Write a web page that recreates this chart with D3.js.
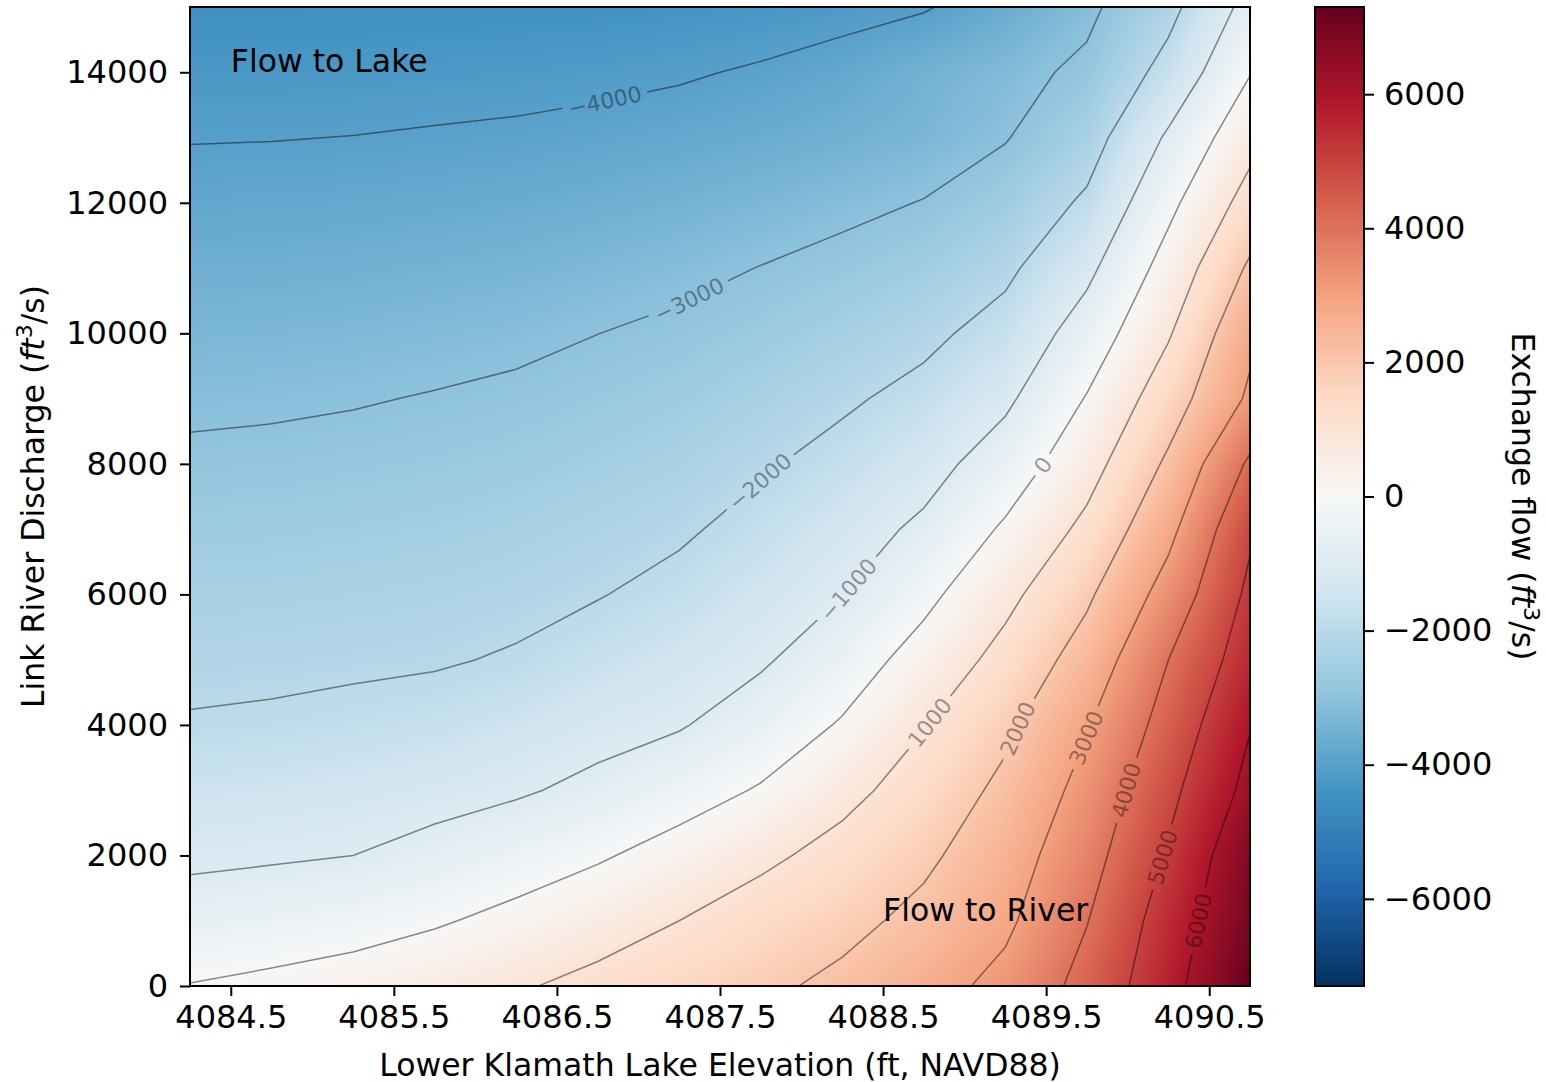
<!DOCTYPE html>
<html>
<head>
<meta charset="utf-8">
<script src="https://cdn.jsdelivr.net/npm/d3@7"></script>
<style>
  body { margin: 0; background: #fff; }
  svg { font-family: "DejaVu Sans", sans-serif; }
</style>
</head>
<body>
<svg id="chart" width="1546" height="1082"></svg>
<script>
// grid of the model run: lake elevation (ft) x Link River discharge (ft3/s)
const elevation = [4084.25, 4084.75, 4085.25, 4085.75, 4086.25, 4086.75, 4087.25,
                   4087.75, 4088.25, 4088.75, 4089.25, 4089.75, 4090.25, 4090.75];
const discharge = [0, 1000, 2000, 3000, 4000, 5000, 6000, 7000, 8000,
                   9000, 10000, 11000, 12000, 13000, 14000, 15000];

// exchange flow, one row per discharge value (ft3/s)
const exchange = [
  [   30,   180,   350,   620,   910,  1240,  1560,  1830,  2195,  2650,  3250,  4300,  5655,  7300],
  [ -620,  -475,  -320,   -90,   230,   600,  1000,  1430,  1755,  2230,  2830,  3970,  5453,  6950],
  [-1160, -1090, -1000,  -740,  -430,   -95,   330,   810,  1300,  1830,  2550,  3630,  5100,  6775],
  [-1554, -1497, -1405, -1279, -1097,  -800,  -380,    70,   735,  1410,  2210,  3300,  4760,  6270],
  [-1940, -1891, -1804, -1701, -1516, -1280, -1066,  -555,    78,   960,  1810,  2940,  4362,  5960],
  [-2195, -2166, -2117, -2066, -1935, -1667, -1425, -1110,  -479,   364,  1300,  2400,  4000,  5500],
  [-2426, -2396, -2346, -2291, -2195, -2033, -1785, -1435, -1017,  -234,   757,  1854,  3369,  5200],
  [-2656, -2625, -2576, -2516, -2426, -2275, -2103, -1760, -1382,  -841,   126,  1223,  2755,  4860],
  [-2890, -2859, -2809, -2744, -2660, -2520, -2364, -2084, -1753, -1331,  -546,   623,  2155,  4150],
  [-3118, -3089, -3040, -2969, -2890, -2762, -2621, -2386, -2112, -1770, -1168,    53,  1534,  3150],
  [-3344, -3319, -3277, -3212, -3135, -3004, -2877, -2688, -2460, -2187, -1688,  -573,   915,  2800],
  [-3569, -3550, -3515, -3458, -3394, -3284, -3157, -2986, -2807, -2578, -2173, -1214,   364,  2140],
  [-3799, -3784, -3755, -3708, -3657, -3569, -3461, -3322, -3160, -2976, -2613, -1867,  -228,  1370],
  [-4024, -4014, -3993, -3955, -3916, -3849, -3760, -3648, -3508, -3347, -3040, -2403,  -871,   681],
  [-4250, -4245, -4230, -4200, -4175, -4129, -4060, -3940, -3780, -3480, -3230, -2850, -1700,   -40],
  [-4475, -4475, -4467, -4447, -4434, -4410, -4360, -4300, -4180, -4050, -3660, -3170, -2260,  -690]
];

const contourLevels = [-4000, -3000, -2000, -1000, 0, 1000, 2000, 3000, 4000, 5000, 6000];
const xTicks = [4084.5, 4085.5, 4086.5, 4087.5, 4088.5, 4089.5, 4090.5];
const yTicks = [0, 2000, 4000, 6000, 8000, 10000, 12000, 14000];
const cbarTicks = [-6000, -4000, -2000, 0, 2000, 4000, 6000];

// where the inline contour labels sit
const labelLevels = [-4000, -3000, -2000, -1000, 0, 1000, 2000, 3000, 4000, 5000, 6000];
const labelElev = [4086.79, 4087.30, 4087.75, 4088.30, 4089.46, 4088.78, 4089.30, 4089.73, 4089.98, 4090.21, 4090.43];
const labelQ = [13617, 10565, 7713, 6042, 8020, 4048, 3972, 3818, 3006, 1978, 981];

const plot = {left: 190, right: 1250, top: 7, bottom: 986};
const nx = elevation.length, ny = discharge.length;
const tickSize = 32, textSize = 31.5;
const minus = v => v < 0 ? '\u2212' + Math.abs(v) : String(v);

const svg = d3.select('#chart');

const x = d3.scaleLinear().domain([elevation[0], elevation[nx - 1]]).range([plot.left, plot.right]);
const y = d3.scaleLinear().domain([discharge[0], discharge[ny - 1]]).range([plot.bottom, plot.top]);

// symmetric colour limits, RdBu_r
const vmax = d3.max(exchange.flat(), v => Math.abs(v));
const rdbu = ['#053061', '#2166ac', '#4393c3', '#92c5de', '#d1e5f0', '#f7f7f7',
              '#fddbc7', '#f4a582', '#d6604d', '#b2182b', '#67001f'];
const color = d3.scaleLinear()
    .domain(rdbu.map((c, i) => -vmax + i * 2 * vmax / (rdbu.length - 1)))
    .range(rdbu)
    .interpolate(d3.interpolateRgb)
    .clamp(true);

// smooth field: bilinear between grid nodes, painted on a canvas
const W = plot.right - plot.left, H = plot.bottom - plot.top;
const canvas = document.createElement('canvas');
canvas.width = W;
canvas.height = H;
const ctx = canvas.getContext('2d');
const img = ctx.createImageData(W, H);
const lut = d3.range(1025).map(i => d3.rgb(color(-vmax + 2 * vmax * i / 1024)));
const fx = d3.scaleLinear().domain(x.domain()).range([0, nx - 1]).clamp(true);
const fy = d3.scaleLinear().domain(y.domain()).range([0, ny - 1]).clamp(true);

for (let j = 0; j < H; j++) {
  const gy = fy(y.invert(plot.top + j + 0.5));
  const j0 = Math.min(ny - 2, Math.floor(gy)), ty = gy - j0;
  for (let i = 0; i < W; i++) {
    const gx = fx(x.invert(plot.left + i + 0.5));
    const i0 = Math.min(nx - 2, Math.floor(gx)), tx = gx - i0;
    const v = (1 - tx) * (1 - ty) * exchange[j0][i0] + tx * (1 - ty) * exchange[j0][i0 + 1]
            + (1 - tx) * ty * exchange[j0 + 1][i0] + tx * ty * exchange[j0 + 1][i0 + 1];
    const k = Math.max(0, Math.min(1024, Math.round((v + vmax) / (2 * vmax) * 1024)));
    const c = lut[k], p = (j * W + i) * 4;
    img.data[p] = c.r; img.data[p + 1] = c.g; img.data[p + 2] = c.b; img.data[p + 3] = 255;
  }
}
ctx.putImageData(img, 0, 0);

const defs = svg.append('defs');
defs.append('clipPath').attr('id', 'plotclip')
  .append('rect')
    .attr('x', plot.left).attr('y', plot.top)
    .attr('width', W).attr('height', H);

svg.append('image')
    .attr('x', plot.left).attr('y', plot.top)
    .attr('width', W).attr('height', H)
    .attr('preserveAspectRatio', 'none')
    .attr('href', canvas.toDataURL());

// contour lines
const contours = d3.contours().size([nx, ny]).thresholds(contourLevels)(exchange.flat());
const gxScale = d3.scaleLinear().domain([0.5, nx - 0.5]).range([elevation[0], elevation[nx - 1]]);
const gyScale = d3.scaleLinear().domain([0.5, ny - 0.5]).range([discharge[0], discharge[ny - 1]]);
const toPx = p => [x(gxScale(p[0])), y(gyScale(p[1]))];
const line = d3.line();

const lines = svg.append('g').attr('clip-path', 'url(#plotclip)')
  .append('g').attr('mask', 'url(#gaps)');

contours.forEach(c => {
  c.coordinates.forEach(poly => poly.forEach(ring => {
    lines.append('path')
        .attr('d', line(ring.map(toPx)))
        .attr('fill', 'none')
        .attr('stroke', 'rgba(0,0,0,0.45)')
        .attr('stroke-width', 1.5);
  }));
});

// inline labels: nearest point on the level's contour, rotated along it
const inside = p => p[0] > plot.left + 1 && p[0] < plot.right - 1 && p[1] > plot.top + 1 && p[1] < plot.bottom - 1;
const labelG = svg.append('g');
const mask = defs.append('mask').attr('id', 'gaps')
    .attr('maskUnits', 'userSpaceOnUse')
    .attr('x', 0).attr('y', 0).attr('width', 1546).attr('height', 1082);
mask.append('rect').attr('width', 1546).attr('height', 1082).attr('fill', '#fff');

labelLevels.forEach((lvl, li) => {
  const c = contours.find(d => d.value === lvl);
  if (!c) return;
  const tx = x(labelElev[li]), ty = y(labelQ[li]);
  let best = null;
  c.coordinates.forEach(poly => poly.forEach(ring => {
    const pts = ring.map(toPx);
    for (let k = 0; k < pts.length - 1; k++) {
      const a = pts[k], b = pts[k + 1];
      if (!inside(a) || !inside(b)) continue;
      const dx = b[0] - a[0], dy = b[1] - a[1];
      const len2 = dx * dx + dy * dy || 1;
      const t = Math.max(0, Math.min(1, ((tx - a[0]) * dx + (ty - a[1]) * dy) / len2));
      const px = a[0] + t * dx, py = a[1] + t * dy;
      const d2 = (px - tx) ** 2 + (py - ty) ** 2;
      if (!best || d2 < best.d2) best = {d2, px, py, ang: Math.atan2(dy, dx) * 180 / Math.PI};
    }
  }));
  if (!best) return;
  let ang = best.ang;
  if (ang > 90) ang -= 180;
  if (ang < -90) ang += 180;
  const t = labelG.append('text')
      .attr('transform', `translate(${best.px},${best.py}) rotate(${ang})`)
      .attr('text-anchor', 'middle')
      .attr('dy', '0.36em')
      .attr('font-size', 22)
      .attr('fill', 'rgba(0,0,0,0.4)')
      .text(minus(lvl));
  const w = t.node().getComputedTextLength() + 12;
  mask.append('rect')
      .attr('x', -w / 2).attr('y', -11).attr('width', w).attr('height', 22)
      .attr('fill', '#000')
      .attr('transform', `translate(${best.px},${best.py}) rotate(${ang})`);
});

// annotations
svg.append('text').attr('x', x(4084.5)).attr('y', y(14000))
    .attr('font-size', textSize).text('Flow to Lake');
svg.append('text').attr('x', x(4088.5)).attr('y', y(1000))
    .attr('font-size', textSize).text('Flow to River');

// axes
const xAxis = svg.append('g')
    .attr('transform', `translate(0,${plot.bottom})`)
    .call(d3.axisBottom(x).tickValues(xTicks).tickFormat(d3.format('.1f')).tickSize(10).tickPadding(9));
const yAxis = svg.append('g')
    .attr('transform', `translate(${plot.left},0)`)
    .call(d3.axisLeft(y).tickValues(yTicks).tickFormat(d3.format('d')).tickSize(10).tickPadding(12));
[xAxis, yAxis].forEach(a => {
  a.select('.domain').remove();
  a.attr('font-family', null).attr('font-size', tickSize);
  a.selectAll('line').attr('stroke-width', 2);
  a.selectAll('text').attr('fill', '#000');
});

svg.append('rect')
    .attr('x', plot.left).attr('y', plot.top).attr('width', W).attr('height', H)
    .attr('fill', 'none').attr('stroke', '#000').attr('stroke-width', 2);

svg.append('text')
    .attr('x', (plot.left + plot.right) / 2).attr('y', 1076)
    .attr('text-anchor', 'middle').attr('font-size', textSize)
    .text('Lower Klamath Lake Elevation (ft, NAVD88)');

function unitLabel(sel, lead) {
  sel.append('tspan').text(lead);
  sel.append('tspan').attr('font-style', 'italic').text('ft');
  sel.append('tspan').attr('font-size', '0.7em').attr('dy', '-0.55em').text('3');
  sel.append('tspan').attr('dy', '0.385em').text('/s)');
}

const yLab = svg.append('text')
    .attr('transform', `translate(44,${(plot.top + plot.bottom) / 2}) rotate(-90)`)
    .attr('text-anchor', 'middle').attr('font-size', textSize);
unitLabel(yLab, 'Link River Discharge (');

// colorbar
const cb = {left: 1315, right: 1364};
const cy = d3.scaleLinear().domain([-vmax, vmax]).range([plot.bottom, plot.top]);
const grad = defs.append('linearGradient').attr('id', 'cbgrad')
    .attr('x1', 0).attr('y1', 1).attr('x2', 0).attr('y2', 0);
rdbu.forEach((c, i) => grad.append('stop').attr('offset', i / (rdbu.length - 1)).attr('stop-color', c));
svg.append('rect')
    .attr('x', cb.left).attr('y', plot.top)
    .attr('width', cb.right - cb.left).attr('height', H)
    .attr('fill', 'url(#cbgrad)')
    .attr('stroke', '#000').attr('stroke-width', 2);

const cAxis = svg.append('g')
    .attr('transform', `translate(${cb.right},0)`)
    .call(d3.axisRight(cy).tickValues(cbarTicks).tickFormat(minus).tickSize(10).tickPadding(10));
cAxis.select('.domain').remove();
cAxis.attr('font-family', null).attr('font-size', tickSize);
cAxis.selectAll('line').attr('stroke-width', 2);
cAxis.selectAll('text').attr('fill', '#000');

const cLab = svg.append('text')
    .attr('transform', `translate(1512,${(plot.top + plot.bottom) / 2}) rotate(90)`)
    .attr('text-anchor', 'middle').attr('font-size', textSize);
unitLabel(cLab, 'Exchange flow (');
</script>
</body>
</html>
